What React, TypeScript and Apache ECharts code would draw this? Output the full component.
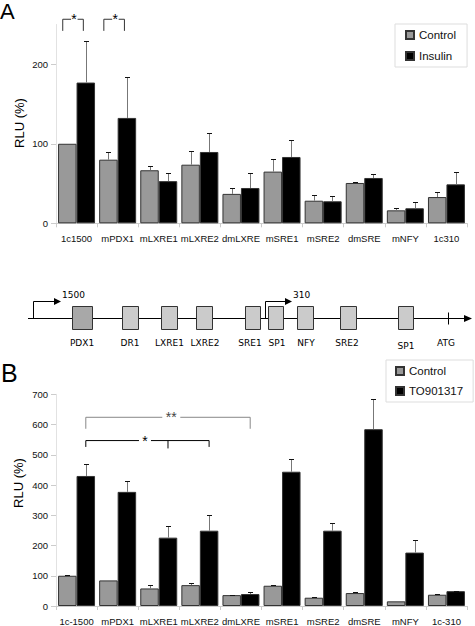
import React, { useEffect, useRef } from "react";
import * as echarts from "echarts";

// ---------- Data ----------
const categoriesA = ["1c1500", "mPDX1", "mLXRE1", "mLXRE2", "dmLXRE", "mSRE1", "mSRE2", "dmSRE", "mNFY", "1c310"];
const controlA = [100, 80, 66.7, 73.7, 37, 65, 28.4, 50.7, 16.3, 33];
const controlErrA = [0, 10, 5.3, 17.3, 7, 15.5, 7.2, 1.7, 3.3, 6.4];
const insulinA = [177, 132.5, 53, 89.7, 44.4, 83.4, 27.7, 57, 18.9, 49];
const insulinErrA = [52, 51, 10, 23.3, 18.6, 21, 7, 4.6, 7.9, 15];
const yTicksA = [0, 100, 200];

const categoriesB = ["1c-1500", "mPDX1", "mLXRE1", "mLXRE2", "dmLXRE", "mSRE1", "mSRE2", "dmSRE", "mNFY", "1c-310"];
const controlB = [100, 84.6, 58, 69, 36, 67, 27.4, 42.8, 15.4, 37.3];
const controlErrB = [3, 0, 10, 7.7, 2, 2.5, 2.6, 2.2, 0, 2.2];
const to901317B = [430, 377.4, 226, 249, 39.5, 444, 249, 584.6, 176.6, 49];
const to901317ErrB = [40.6, 36.2, 39, 52.6, 5.5, 40.8, 27, 99.4, 42.8, 2];
const yTicksB = [0, 100, 200, 300, 400, 500, 600, 700];

// significance annotations
const sigACats = [0, 1];
const sigALabel = ["*", "*"];
const sigBFrom = [0, 0];
const sigBTo = [4, 3];
const sigBMid = [-1, 2];
const sigBLevel = [624, 547];
const sigBLeg = [586, 526];
const sigBLabel = ["**", "*"];

// promoter diagram elements
const elementNames = ["PDX1", "DR1", "LXRE1", "LXRE2", "SRE1", "SP1", "NFY", "SRE2", "SP1", "ATG"];
const startSites = ["1500", "310"];

const FONT = "Liberation Sans, Arial, sans-serif";
const DFONT = "DejaVu Sans, Verdana, sans-serif";

function errRender(side: number) {
  return (params: any, api: any) => {
    const i = api.value(0);
    const v = api.value(1);
    const e = api.value(2);
    if (!(e > 0)) return { type: "group", children: [] };
    const catW = api.size([1, 0])[0];
    const bw = (catW * 0.9) / 2;
    const cx = Math.round(api.coord([i, 0])[0] + (side * bw) / 2) + 0.5;
    const y0 = api.coord([i, v])[1];
    const y1 = Math.round(api.coord([i, v + e])[1]) + 0.5;
    return {
      type: "group",
      children: [
        { type: "line", shape: { x1: cx, y1: y0, x2: cx, y2: y1 }, style: { stroke: "#777", lineWidth: 1 } },
        { type: "line", shape: { x1: cx - 2.5, y1: y1, x2: cx + 2.5, y2: y1 }, style: { stroke: "#111", lineWidth: 1 } },
      ],
    };
  };
}

function sigARender(params: any, api: any) {
  const i = api.value(0);
  const catW = api.size([1, 0])[0];
  const c = api.coord([i, 0])[0];
  const xL = c - 0.336 * catW;
  const xR = c + 0.165 * catW;
  const yTop = api.coord([i, 256.6])[1];
  const yLeg = api.coord([i, 242])[1];
  const sx = c - 0.06 * catW;
  return {
    type: "group",
    children: [
      { type: "polyline", shape: { points: [[xL, yLeg], [xL, yTop], [sx - 3, yTop]] }, style: { stroke: "#333", lineWidth: 1, fill: "none" } },
      { type: "polyline", shape: { points: [[sx + 3.5, yTop], [xR, yTop], [xR, yLeg]] }, style: { stroke: "#333", lineWidth: 1, fill: "none" } },
      { type: "text", style: { text: sigALabel[params.dataIndex], x: sx, y: yTop, align: "center", verticalAlign: "middle", textAlign: "center", textVerticalAlign: "middle", font: "14px " + FONT, fill: "#000" } },
    ],
  };
}

function sigBRender(params: any, api: any) {
  const k = params.dataIndex;
  const catW = api.size([1, 0])[0];
  const bw = (catW * 0.9) / 2;
  const px = (cat: number) => api.coord([cat, 0])[0] + bw / 2;
  const x0 = px(api.value(0));
  const x1 = px(api.value(1));
  const yTop = api.coord([0, api.value(3)])[1];
  const yLeg = api.coord([0, api.value(4)])[1];
  const color = k === 0 ? "#888" : "#000";
  const label = sigBLabel[k];
  const tx = x0 + (x1 - x0) * (k === 0 ? 0.52 : 0.48);
  const half = k === 0 ? 9 : 6;
  const children: any[] = [
    { type: "polyline", shape: { points: [[x0, yLeg], [x0, yTop], [tx - half, yTop]] }, style: { stroke: color, lineWidth: 1, fill: "none" } },
    { type: "polyline", shape: { points: [[tx + half, yTop], [x1, yTop], [x1, yLeg]] }, style: { stroke: color, lineWidth: 1, fill: "none" } },
    { type: "text", style: { text: label, x: tx, y: yTop, align: "center", verticalAlign: "middle", textAlign: "center", textVerticalAlign: "middle", font: "14px " + FONT, fill: k === 0 ? "#444" : "#000" } },
  ];
  const mid = api.value(2);
  if (mid >= 0) {
    const xm = px(mid);
    children.push({ type: "line", shape: { x1: xm, y1: yTop, x2: xm, y2: yLeg + 1.5 }, style: { stroke: color, lineWidth: 1 } });
  }
  return { type: "group", children };
}

function diagramGraphics() {
  const yLine = 318.5;
  const boxTop = 306.5;
  const boxH = 23;
  const boxX: [number, number][] = [
    [72.5, 92.5], [122.5, 138.5], [161.5, 177.5], [196.5, 212.5], [245.5, 260.5],
    [268.5, 283.5], [297.5, 313.5], [340.5, 356.5], [398.5, 413.5],
  ];
  const labelX = [82, 130, 169.5, 205, 250, 277, 306, 347, 406, 446];
  const labelY = [343, 343, 343, 343, 343, 343, 343, 343, 345.5, 343];
  const els: any[] = [];
  els.push({ type: "line", shape: { x1: 28, y1: yLine, x2: 466, y2: yLine }, style: { stroke: "#000", lineWidth: 1 } });
  els.push({ type: "polygon", shape: { points: [[464, yLine - 3.5], [472, yLine], [464, yLine + 3.5]] }, style: { fill: "#000" } });
  // start sites
  const starts = [[33.5, 61, 62], [265.5, 292, 293]];
  starts.forEach((s, i) => {
    els.push({ type: "polyline", shape: { points: [[s[0], yLine], [s[0], 301.5], [s[1] - 6, 301.5]] }, style: { stroke: "#000", lineWidth: 1, fill: "none" } });
    els.push({ type: "polygon", shape: { points: [[s[1] - 7, 298], [s[1], 301.5], [s[1] - 7, 305]] }, style: { fill: "#000" } });
    els.push({ type: "text", x: s[2], y: 294.5, style: { text: startSites[i], font: "9px " + DFONT, fill: "#000", align: "left", verticalAlign: "middle", textAlign: "left", textVerticalAlign: "middle" } });
  });
  boxX.forEach((b, i) => {
    els.push({ type: "rect", shape: { x: b[0], y: boxTop, width: b[1] - b[0], height: boxH }, style: { fill: i === 0 ? "#a8a8a8" : "#cbcbcb", stroke: "#333", lineWidth: 1 } });
  });
  els.push({ type: "line", shape: { x1: 448.5, y1: 312.5, x2: 448.5, y2: 324.5 }, style: { stroke: "#000", lineWidth: 1 } });
  elementNames.forEach((n, i) => {
    els.push({ type: "text", x: labelX[i], y: labelY[i], style: { text: n, font: "9px " + DFONT, fill: "#000", align: "center", verticalAlign: "middle", textAlign: "center", textVerticalAlign: "middle" } });
  });
  return els;
}

export default function App() {
  const ref = useRef<HTMLDivElement>(null);
  useEffect(() => {
    if (!ref.current) return;
    const chart = echarts.init(ref.current, null, { renderer: "svg" });

    const barStyle = (color: string) => ({ color, borderColor: "#333", borderWidth: 1 });
    const xAxisCommon = (cats: string[], gi: number) => ({
      type: "category",
      gridIndex: gi,
      data: cats,
      axisLine: { show: true, lineStyle: { color: "#ccc" } },
      axisTick: { show: true, interval: 0, length: 4, lineStyle: { color: "#ccc" } },
      axisLabel: { interval: 0, margin: 10, fontSize: 9.5, fontFamily: FONT, color: "#111" },
      splitLine: { show: false },
    });
    const yAxisCommon = (gi: number, max: number) => ({
      type: "value",
      gridIndex: gi,
      min: 0,
      max,
      interval: 100,
      axisLine: { show: true, lineStyle: { color: "#e2e2e2" } },
      axisTick: { show: true, length: 5, lineStyle: { color: "#ccc" } },
      axisLabel: { margin: 8, fontSize: 9.5, fontFamily: FONT, color: "#111", showMaxLabel: max === 700 },
      splitLine: { show: false },
    });

    const idx = (arr: number[], err: number[]) => arr.map((v, i) => [i, v, err[i]]);

    chart.setOption({
      animation: false,
      backgroundColor: "#fff",
      textStyle: { fontFamily: FONT },
      grid: [
        { left: 56, top: 24.5, width: 411, height: 198.8 },
        { left: 56, top: 394.3, width: 411, height: 212.7 },
      ],
      xAxis: [xAxisCommon(categoriesA, 0), xAxisCommon(categoriesB, 1)],
      yAxis: [
        { ...yAxisCommon(0, 250), axisLabel: { ...yAxisCommon(0, 250).axisLabel, formatter: (v: number) => (yTicksA.includes(v) ? String(v) : "") } },
        { ...yAxisCommon(1, 700), axisLabel: { ...yAxisCommon(1, 700).axisLabel, formatter: (v: number) => (yTicksB.includes(v) ? String(v) : "") } },
      ],
      legend: [
        {
          data: ["Control", "Insulin"],
          orient: "vertical",
          left: 395,
          top: 24,
          icon: "rect",
          itemWidth: 8,
          itemHeight: 8,
          itemGap: 9,
          padding: [5, 11, 5, 10],
          borderColor: "#ddd",
          borderWidth: 1,
          textStyle: { fontSize: 11.5, fontFamily: FONT, color: "#111" },
        },
        {
          data: ["Control", "TO901317"],
          orient: "vertical",
          left: 386,
          top: 360,
          icon: "rect",
          itemWidth: 8,
          itemHeight: 8,
          itemGap: 8,
          padding: [5, 10, 5, 9],
          borderColor: "#ddd",
          borderWidth: 1,
          textStyle: { fontSize: 11.5, fontFamily: FONT, color: "#111" },
        },
      ],
      series: [
        { name: "Control", type: "bar", xAxisIndex: 0, yAxisIndex: 0, data: controlA, barGap: "0%", barCategoryGap: "10%", itemStyle: barStyle("#999999") },
        { name: "Insulin", type: "bar", xAxisIndex: 0, yAxisIndex: 0, data: insulinA, barGap: "0%", barCategoryGap: "10%", itemStyle: barStyle("#000000") },
        { name: "Control", type: "bar", xAxisIndex: 1, yAxisIndex: 1, data: controlB, barGap: "0%", barCategoryGap: "10%", itemStyle: barStyle("#999999") },
        { name: "TO901317", type: "bar", xAxisIndex: 1, yAxisIndex: 1, data: to901317B, barGap: "0%", barCategoryGap: "10%", itemStyle: barStyle("#000000") },
        { type: "custom", xAxisIndex: 0, yAxisIndex: 0, clip: false, z: 5, renderItem: errRender(-1), data: idx(controlA, controlErrA), silent: true },
        { type: "custom", xAxisIndex: 0, yAxisIndex: 0, clip: false, z: 5, renderItem: errRender(1), data: idx(insulinA, insulinErrA), silent: true },
        { type: "custom", xAxisIndex: 1, yAxisIndex: 1, clip: false, z: 5, renderItem: errRender(-1), data: idx(controlB, controlErrB), silent: true },
        { type: "custom", xAxisIndex: 1, yAxisIndex: 1, clip: false, z: 5, renderItem: errRender(1), data: idx(to901317B, to901317ErrB), silent: true },
        { type: "custom", xAxisIndex: 0, yAxisIndex: 0, clip: false, z: 6, renderItem: sigARender, data: sigACats.map((c) => [c, 0]), silent: true },
        {
          type: "custom", xAxisIndex: 1, yAxisIndex: 1, clip: false, z: 6, renderItem: sigBRender, silent: true,
          data: sigBFrom.map((f, k) => [f, sigBTo[k], sigBMid[k], sigBLevel[k], sigBLeg[k]]),
        },
      ],
      graphic: [
        { type: "text", x: 0, y: 0, style: { text: "A", font: "22px " + FONT, fill: "#000" } },
        { type: "text", x: 1, y: 360, style: { text: "B", font: "25px " + FONT, fill: "#000" } },
        { type: "text", x: 19, y: 123, rotation: Math.PI / 2, style: { text: "RLU (%)", font: "13px " + FONT, fill: "#000", align: "center", verticalAlign: "middle", textAlign: "center", textVerticalAlign: "middle" } },
        { type: "text", x: 18.5, y: 483, rotation: Math.PI / 2, style: { text: "RLU (%)", font: "13px " + FONT, fill: "#000", align: "center", verticalAlign: "middle", textAlign: "center", textVerticalAlign: "middle" } },
        ...diagramGraphics(),
      ],
    });
    return () => chart.dispose();
  }, []);
  return <div ref={ref} style={{ position: "absolute", left: 0, top: 0, width: 475, height: 626, background: "#fff" }} />;
}
